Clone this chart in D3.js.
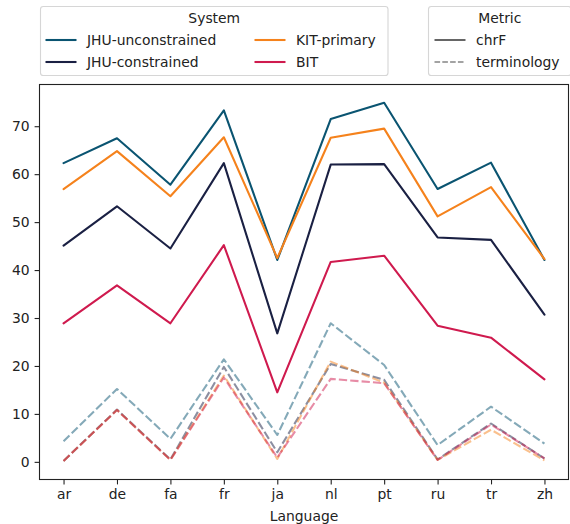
<!DOCTYPE html>
<html>
<head>
<meta charset="utf-8">
<script src="https://cdn.jsdelivr.net/npm/d3@7/dist/d3.min.js"></script>
<style>
  html, body { margin: 0; padding: 0; background: #fff; }
  svg { display: block; font-family: "DejaVu Sans", sans-serif; }
</style>
</head>
<body>
<svg id="chart" width="570" height="524"></svg>
<script>
// Languages on the x axis
const languages = ["ar", "de", "fa", "fr", "ja", "nl", "pt", "ru", "tr", "zh"];

// Systems and their colours
const systems = ["JHU-unconstrained", "JHU-constrained", "KIT-primary", "BIT"];
const systemColors = ["#0a5471", "#1a2043", "#f5821c", "#cf1a4e"];

// chrF scores per system
const chrfJhuUnconstrained = [62.3, 67.5, 57.8, 73.3, 42.1, 71.5, 74.9, 56.9, 62.4, 42.1];
const chrfJhuConstrained   = [45.1, 53.3, 44.5, 62.3, 26.8, 62.0, 62.1, 46.8, 46.3, 30.7];
const chrfKitPrimary       = [56.9, 64.8, 55.4, 67.7, 42.5, 67.6, 69.5, 51.2, 57.3, 42.3];
const chrfBit              = [28.9, 36.8, 28.9, 45.2, 14.5, 41.7, 43.0, 28.4, 25.9, 17.2];

// Terminology scores per system
const termJhuUnconstrained = [4.3, 15.2, 4.8, 21.4, 5.6, 28.9, 20.2, 3.5, 11.5, 3.8];
const termJhuConstrained   = [0.2, 10.9, 0.5, 19.8, 2.0, 20.4, 17.1, 0.5, 8.0, 0.7];
const termKitPrimary       = [0.2, 10.8, 0.4, 18.0, 0.6, 20.9, 16.5, 0.4, 6.7, 0.3];
const termBit              = [0.2, 10.8, 0.4, 17.6, 0.9, 17.3, 16.4, 0.4, 7.8, 0.7];

const metrics = ["chrF", "terminology"];
const yTicks = [0, 10, 20, 30, 40, 50, 60, 70];

const chrfSeries = [chrfJhuUnconstrained, chrfJhuConstrained, chrfKitPrimary, chrfBit];
const termSeries = [termJhuUnconstrained, termJhuConstrained, termKitPrimary, termBit];

const svg = d3.select("#chart");
const fontSize = 13.9;
const plot = { left: 39.5, right: 568.5, top: 84.5, bottom: 479.5 };

const x = d3.scaleLinear().domain([-0.45, languages.length - 1 + 0.45]).range([plot.left, plot.right]);
const y = d3.scaleLinear().domain([-3.68, 78.7]).range([plot.bottom, plot.top]);

const line = d3.line().x((d, i) => x(i)).y(d => y(d));

// Lines drawn system by system: chrF solid, terminology dashed and translucent
const g = svg.append("g");
systems.forEach((s, k) => {
  g.append("path")
    .attr("d", line(chrfSeries[k]))
    .attr("fill", "none")
    .attr("stroke", systemColors[k])
    .attr("stroke-width", 2.08)
    .attr("stroke-linejoin", "round")
    .attr("stroke-linecap", "round");
  g.append("path")
    .attr("d", line(termSeries[k]))
    .attr("fill", "none")
    .attr("stroke", systemColors[k])
    .attr("stroke-opacity", 0.5)
    .attr("stroke-width", 2.08)
    .attr("stroke-dasharray", "8.3,3.1")
    .attr("stroke-linejoin", "round");
});

// Axes frame
svg.append("rect")
  .attr("x", plot.left).attr("y", plot.top)
  .attr("width", plot.right - plot.left).attr("height", plot.bottom - plot.top)
  .attr("fill", "none").attr("stroke", "#222").attr("stroke-width", 1.1);

// X axis
const xAxis = d3.axisBottom(x)
  .tickValues(d3.range(languages.length))
  .tickFormat(i => languages[i])
  .tickSize(4.9).tickPadding(4.9);
const gx = svg.append("g").attr("transform", `translate(0,${plot.bottom})`).call(xAxis);
gx.select(".domain").remove();
gx.selectAll("line").attr("stroke", "#222").attr("stroke-width", 1.1);
gx.selectAll("text").attr("font-size", fontSize).attr("font-family", "DejaVu Sans").attr("fill", "#222");

// Y axis
const yAxis = d3.axisLeft(y).tickValues(yTicks).tickFormat(d3.format("d"))
  .tickSize(4.9).tickPadding(4.9);
const gy = svg.append("g").attr("transform", `translate(${plot.left},0)`).call(yAxis);
gy.select(".domain").remove();
gy.selectAll("line").attr("stroke", "#222").attr("stroke-width", 1.1);
gy.selectAll("text").attr("font-size", fontSize).attr("font-family", "DejaVu Sans").attr("fill", "#222");

// X axis label
svg.append("text")
  .attr("x", (plot.left + plot.right) / 2).attr("y", 521)
  .attr("text-anchor", "middle").attr("font-size", fontSize).attr("fill", "#222")
  .text("Language");

// Legend box helper
function legendBox(x0, x1, title) {
  const lg = svg.append("g");
  lg.append("rect")
    .attr("x", x0).attr("y", 6.5).attr("width", x1 - x0).attr("height", 69)
    .attr("rx", 2.8).attr("fill", "#fff").attr("fill-opacity", 0.8)
    .attr("stroke", "#d6d6d6").attr("stroke-width", 1.1);
  lg.append("text").attr("x", (x0 + x1) / 2).attr("y", 23)
    .attr("text-anchor", "middle").attr("font-size", fontSize).attr("fill", "#222")
    .text(title);
  return lg;
}

// System legend (two columns)
const sysLegend = legendBox(40.5, 388, "System");
const sysPos = [[45.5, 40], [45.5, 62], [254.5, 40], [254.5, 62]];
systems.forEach((s, k) => {
  const [hx, hy] = sysPos[k];
  sysLegend.append("line")
    .attr("x1", hx).attr("x2", hx + 31).attr("y1", hy).attr("y2", hy)
    .attr("stroke", systemColors[k]).attr("stroke-width", 2.08);
  sysLegend.append("text")
    .attr("x", hx + 41.5).attr("y", hy + 5)
    .attr("font-size", fontSize).attr("fill", "#222")
    .text(s);
});

// Metric legend
const metLegend = legendBox(428.5, 571, "Metric");
metrics.forEach((m, k) => {
  const hy = 40 + 22 * k;
  metLegend.append("line")
    .attr("x1", 434.5).attr("x2", 465.5).attr("y1", hy).attr("y2", hy)
    .attr("stroke", "#333").attr("stroke-opacity", k === 0 ? 1 : 0.6)
    .attr("stroke-width", k === 0 ? 1.5 : 1.4)
    .attr("stroke-dasharray", k === 0 ? null : "5.6,2.2");
  metLegend.append("text")
    .attr("x", 476).attr("y", hy + 5)
    .attr("font-size", fontSize).attr("fill", "#222")
    .text(m);
});
</script>
</body>
</html>
